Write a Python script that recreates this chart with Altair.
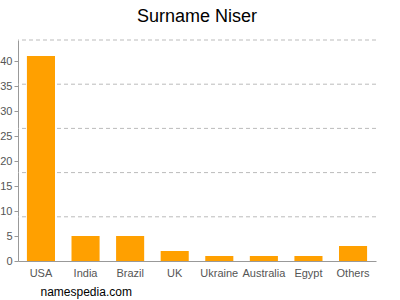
import altair as alt
import pandas as pd

countries = ["USA", "India", "Brazil", "UK", "Ukraine", "Australia", "Egypt", "Others"]
counts = [41, 5, 5, 2, 1, 1, 1, 3]
y_ticks = [0, 5, 10, 15, 20, 25, 30, 35, 40]
y_max = 44.2

df = pd.DataFrame({"country": countries, "count": counts})
grid_vals = [y_max * i / 5 for i in range(1, 6)]

yscale = alt.Scale(domain=[0, y_max], nice=False, zero=True)
yaxis = alt.Axis(title=None, values=y_ticks, grid=False, labelFontSize=11,
                 labelColor="#555555", tickColor="#999999", tickSize=4,
                 domainColor="#999999", labelPadding=2)

bars = alt.Chart(df).mark_bar(color="#ffa000").encode(
    x=alt.X("country:N", sort=countries,
            scale=alt.Scale(paddingInner=0.37, paddingOuter=0.2),
            axis=alt.Axis(title="namespedia.com", labelAngle=0, labelFontSize=11,
                          labelColor="#555555", ticks=False, domainColor="#999999",
                          labelPadding=6, titleFontSize=12, titleFontWeight="normal",
                          titleColor="#000000", titleAnchor="start", titleX=22, titleY=34,
                          titleAlign="left", titleBaseline="alphabetic")),
    y=alt.Y("count:Q", scale=yscale, axis=yaxis),
)

grid = alt.Chart(pd.DataFrame({"g": grid_vals})).mark_rule(
    color="#bbbbbb", strokeDash=[4, 3], strokeWidth=1
).encode(y=alt.Y("g:Q", scale=yscale, axis=yaxis))

chart = alt.layer(grid, bars).properties(
    width=358, height=221,
    title=alt.TitleParams("Surname Niser", fontSize=18, fontWeight="normal",
                          color="#000000", anchor="middle", offset=14),
    autosize=alt.AutoSizeParams(type="none"),
    padding={"left": 18, "top": 40, "right": 24, "bottom": 39},
).configure(font="Liberation Sans").configure_view(stroke=None)

chart.save("out.html", embed_options={"renderer": "svg", "actions": False})
